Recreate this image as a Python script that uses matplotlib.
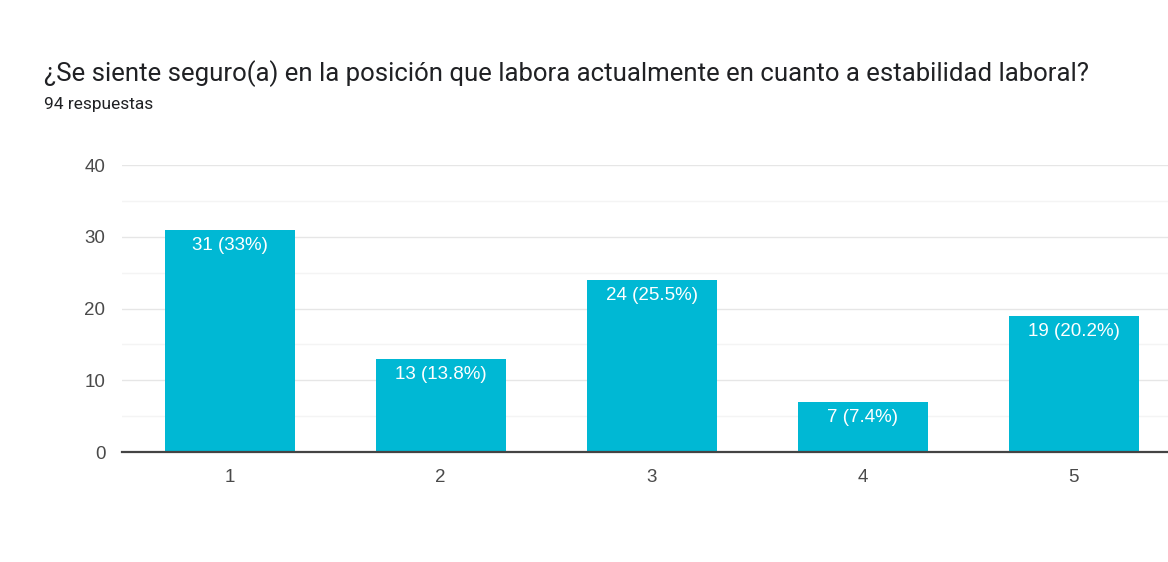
import matplotlib.pyplot as plt

# Survey answers (scale 1-5) and response counts
categories = ['1', '2', '3', '4', '5']
counts = [31, 13, 24, 7, 19]
labels = ['31 (33%)', '13 (13.8%)', '24 (25.5%)', '7 (7.4%)', '19 (20.2%)']
yticks = [0, 10, 20, 30, 40]

plt.rcParams['font.family'] = ['Roboto', 'DejaVu Sans']
chart_font = ['Liberation Sans', 'DejaVu Sans']

fig = plt.figure(figsize=(11.68, 5.62), dpi=100)
fig.patch.set_facecolor('white')

fig.text(0.038, 0.855, '¿Se siente seguro(a) en la posición que labora actualmente en cuanto a estabilidad laboral?',
         fontsize=18.5, color='#202124', ha='left', va='baseline')
fig.text(0.038, 0.806, '94 respuestas', fontsize=12.5, color='#202124', ha='left', va='baseline')

ax = fig.add_axes([0.1045, 0.1957, 0.907, 0.5107])
x = range(1, len(counts) + 1)
bars = ax.bar(x, counts, width=0.615, color='#00b8d4', zorder=2)

# value labels just inside the top of each bar
for rect, txt in zip(bars, labels):
    ax.text(rect.get_x() + rect.get_width() / 2, rect.get_height() - 1.0, txt,
            ha='center', va='top', color='white', fontsize=13.5, family=chart_font, zorder=3)

ax.set_xlim(0.49, 5.51)
ax.set_ylim(0, 40)
ax.set_yticks(yticks)
ax.set_yticks([5, 15, 25, 35], minor=True)
ax.set_xticks(list(x))
ax.set_xticklabels(categories)
ax.grid(axis='y', which='major', color='#e6e6e6', linewidth=1, zorder=0)
ax.grid(axis='y', which='minor', color='#f4f4f4', linewidth=1, zorder=0)

for side in ['top', 'right', 'left']:
    ax.spines[side].set_visible(False)
ax.spines['bottom'].set_color('#444444')
ax.spines['bottom'].set_linewidth(1.6)
ax.spines['bottom'].set_zorder(4)

ax.tick_params(axis='both', which='both', length=0, labelsize=13.5, colors='#4a4a4a')
for lbl in ax.get_xticklabels() + ax.get_yticklabels():
    lbl.set_family(chart_font)
ax.tick_params(axis='y', pad=12)
ax.tick_params(axis='x', pad=12)

fig.savefig('out.png', dpi=100)
